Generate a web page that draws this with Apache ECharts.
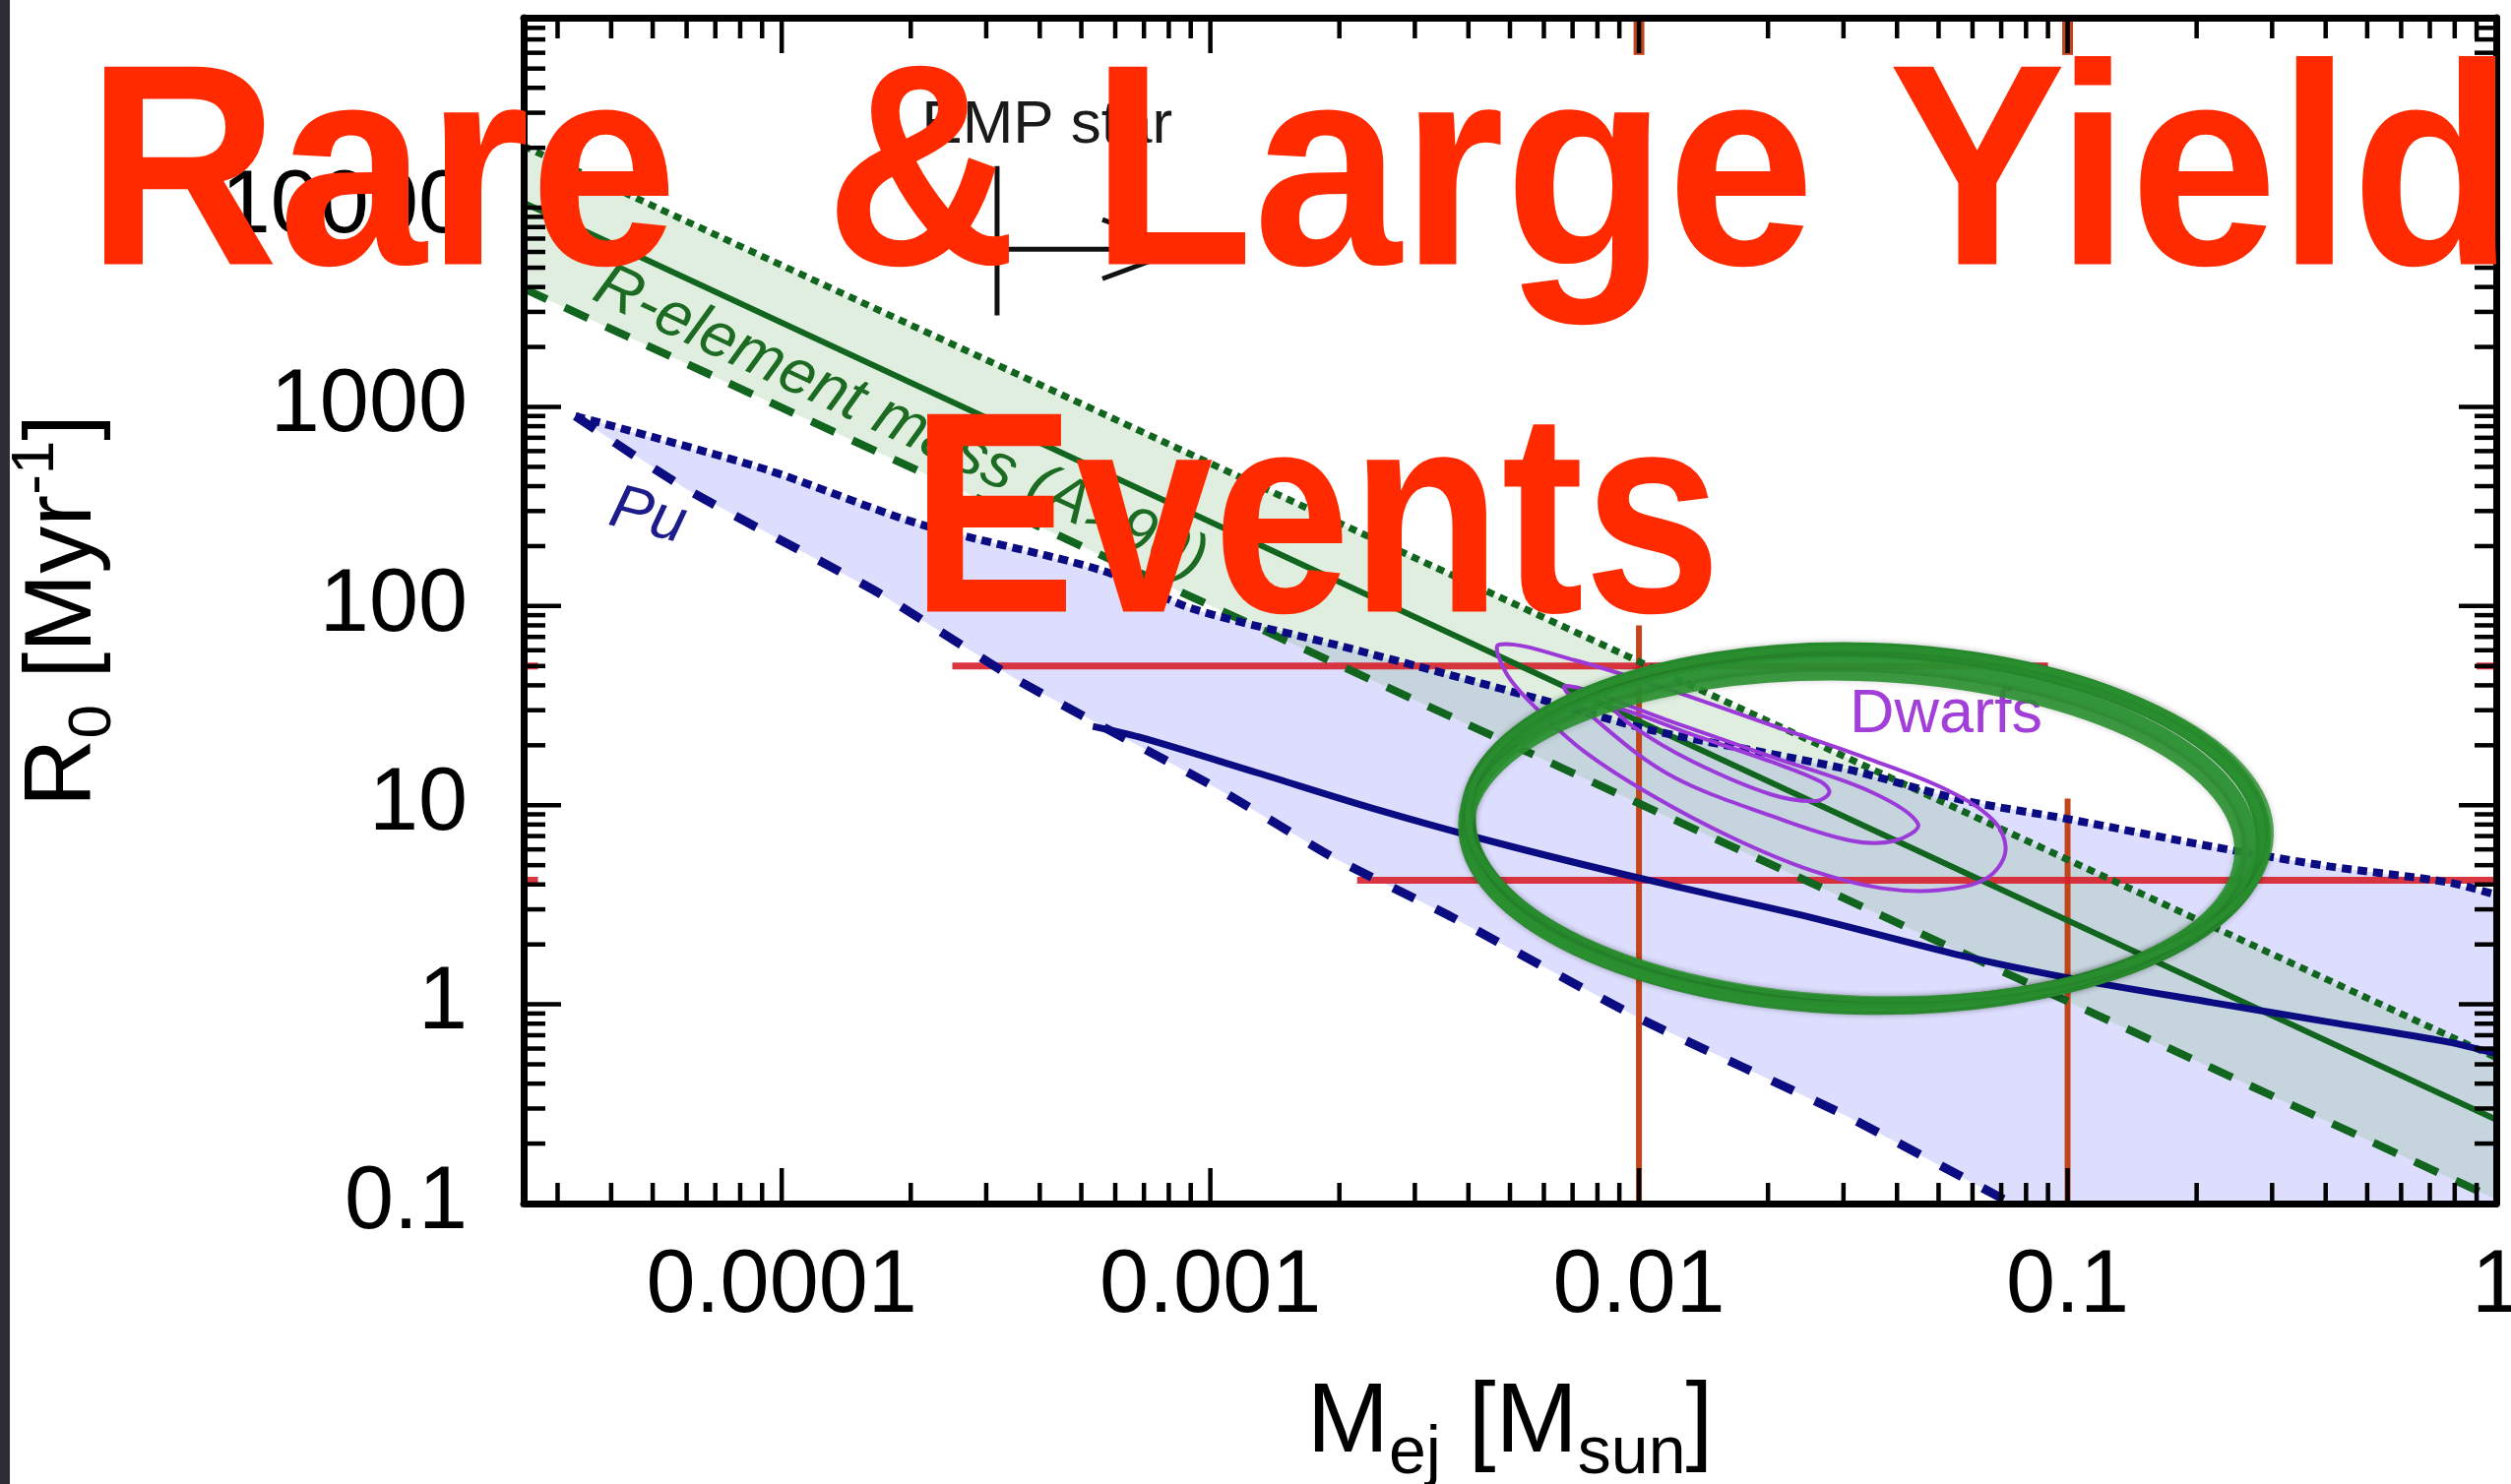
<!DOCTYPE html>
<html>
<head>
<meta charset="utf-8">
<title>Event rate versus ejected mass</title>
<script src="https://cdn.jsdelivr.net/npm/echarts@6.0.0/dist/echarts.min.js"></script>
<style>
  html, body { margin: 0; padding: 0; background: #ffffff; }
  #chart { width: 2551px; height: 1508px; }
</style>
</head>
<body>
<div id="chart"></div>
<script>
const FONT = '"Liberation Sans", Arial, Helvetica, sans-serif';

// Axis ranges: ejected mass [Msun] and event rate [Myr^-1]
const xRange = [2.5e-5, 1];
const yRange = [0.1, 9e4];

// Decade tick labels
const xTickValues = [1e-4, 1e-3, 1e-2, 1e-1, 1];
const xTickLabels = ['0.0001', '0.001', '0.01', '0.1', '1'];
const yTickValues = [0.1, 1, 10, 100, 1000, 10000];
const yTickLabels = ['0.1', '1', '10', '100', '1000', '10000'];

// R-element mass (A>90) band: upper (dotted), central (solid), lower (dashed)
const rElemUpper = [[2.5e-5, 20400], [1, 0.54]];
const rElemMid   = [[2.5e-5, 10600], [1, 0.264]];
const rElemLower = [[2.5e-5, 3930], [1, 0.105]];

// Pu band: upper (dotted), central (solid), lower (dashed)
const puUpper = [[3.3e-5, 900], [9.1e-5, 488], [2.1e-4, 258], [5.58e-4, 151], [9.14e-4, 96.6],
  [1.95e-3, 64.1], [3.64e-3, 45.0], [6.28e-3, 32.7], [1.07e-2, 23.8], [3.04e-2, 15.2],
  [5.7e-2, 10.6], [0.1, 8.53], [0.218, 6.19], [0.408, 4.93], [0.767, 4.11], [1, 3.55]];
const puMid = [[5.32e-4, 24.9], [6.82e-4, 22.0], [1.28e-3, 14.6], [2.39e-3, 9.66], [4.65e-3, 6.49],
  [1.0e-2, 4.31], [2.47e-2, 2.76], [5.7e-2, 1.75], [0.1, 1.36], [0.218, 1.02], [0.408, 0.815],
  [0.767, 0.649], [1, 0.565]];
const puLower = [[3.3e-5, 900], [5.98e-5, 388], [1.7e-4, 115], [3.51e-4, 43.1], [1.04e-3, 12.1],
  [1.95e-3, 5.41], [3.64e-3, 2.76], [1.0e-2, 0.853], [3.04e-2, 0.276], [7.4e-2, 0.1]];

// Dwarf-galaxy likelihood contours (inner, middle, outer)
const dwarfInner = [[8.77e-3, 30.9], [1.34e-2, 22.5], [2.04e-2, 16.5], [2.66e-2, 13.1], [2.78e-2, 11.6],
  [2.59e-2, 10.5], [2.04e-2, 11.3], [1.34e-2, 16.5], [9.75e-3, 24.6]];
const dwarfMiddle = [[6.73e-3, 39.7], [1.2e-2, 26.1], [2.04e-2, 17.5], [3.47e-2, 11.7], [4.48e-2, 8.05],
  [3.96e-2, 6.64], [3.12e-2, 6.64], [2.04e-2, 8.83], [1.2e-2, 13.9], [8.32e-3, 24.6]];
const dwarfOuter = [[4.72e-3, 64.1], [7.1e-3, 53.4], [1.2e-2, 37.5], [2.04e-2, 25.2], [3.38e-2, 17.3],
  [5.16e-2, 12.1], [6.73e-2, 8.34], [7.16e-2, 5.85], [6.47e-2, 4.3], [5.02e-2, 3.75], [3.66e-2, 3.84],
  [2.52e-2, 4.71], [1.65e-2, 6.87], [1.08e-2, 11.1], [7.48e-3, 18.5], [5.74e-3, 30.9], [4.9e-3, 46.1]];

// Rate limits (horizontal) and ejecta-mass marks (vertical)
const rateSegments = [
  [[2.5e-4, 50], [0.09, 50]],
  [[2.2e-3, 4.2], [1, 4.2]],
  [[2.5e-5, 50], [2.7e-5, 50]],
  [[2.5e-5, 4.2], [2.7e-5, 4.2]],
  [[0.9, 50], [1, 50]]
];
const massSegments = [
  [[0.01, 80], [0.01, 0.1]],
  [[0.1, 10.8], [0.1, 0.1]]
];
const massTopMarks = [
  [[0.01, 9e4], [0.01, 58500]],
  [[0.1, 9e4], [0.1, 58500]]
];

// EMP star lower limit marker
const empBar = [[3.18e-4, 16200], [3.18e-4, 2880]];
const empShaft = [[3.18e-4, 6190], [8.6e-4, 6190]];
const empHead = [[5.6e-4, 8730], [8.6e-4, 6190], [5.6e-4, 4400]];

// Text annotations anchored in data space
const labelEmp = { text: 'EMP star', at: [2.12e-4, 25800] };
const labelRElem = { text: 'R-element mass (A>90)', at: [3.72e-5, 4200] };
const labelPu = { text: 'Pu', at: [4.0e-5, 313] };
const labelDwarfs = { text: 'Dwarfs', at: [3.1e-2, 28.5] };

// Highlighted region
const highlightCenter = [0.0334, 7.9];

// ---------------------------------------------------------------------------
const GREEN = '#12651f';
const NAVY = '#0b0b82';
const PURPLE = '#9b3ad8';

function decadeLabel(values, labels) {
  return function (v) {
    const lv = Math.log10(v);
    const i = values.findIndex(t => Math.abs(Math.log10(t) - lv) < 1e-6);
    return i < 0 ? '' : labels[i];
  };
}

// log-axis tick positions (1..9 x 10^n) inside a range
function logTicks(range) {
  const out = [];
  const n0 = Math.floor(Math.log10(range[0]));
  const n1 = Math.ceil(Math.log10(range[1]));
  for (let n = n0; n <= n1; n++) {
    for (let k = 1; k <= 9; k++) {
      const v = k * Math.pow(10, n);
      if (v > range[0] * 1.0001 && v < range[1] * 0.9999) out.push({ v, major: k === 1 });
    }
  }
  return out;
}
const xTicks = logTicks(xRange);
const yTicks = logTicks(yRange);

function overlay(z, renderItem, clip) {
  return {
    type: 'custom', coordinateSystem: 'cartesian2d', data: [[1, 1]], encode: { x: 0, y: 1 },
    z, clip: clip !== false, silent: true, renderItem
  };
}

function lineSeries(data, color, width, type, z) {
  return {
    type: 'line', data, showSymbol: false, symbol: 'none', silent: true, z,
    lineStyle: { color, width, type, cap: 'butt' }
  };
}

function segmentGroup(segments, style) {
  return (params, api) => ({
    type: 'group',
    children: segments.map(seg => {
      const a = api.coord(seg[0]);
      const b = api.coord(seg[1]);
      return { type: 'line', shape: { x1: a[0], y1: a[1], x2: b[0], y2: b[1] }, style };
    })
  });
}

function polygonItem(points, style, smooth) {
  return (params, api) => ({
    type: 'polygon',
    shape: { points: points.map(p => api.coord(p)), smooth: smooth || 0 },
    style
  });
}

function textItem(label, font, fill, rotation) {
  return (params, api) => {
    const p = api.coord(label.at);
    return {
      type: 'text', x: p[0], y: p[1], rotation: typeof rotation === 'function' ? rotation(api) : (rotation || 0),
      style: { text: label.text, font, fill, align: 'left', verticalAlign: 'middle' }
    };
  };
}

// slope of the R-element band on screen, used to orient its label
function bandAngle(api) {
  const a = api.coord(rElemMid[0]);
  const b = api.coord(rElemMid[1]);
  return -Math.atan2(b[1] - a[1], b[0] - a[0]);
}

const puOutline = puUpper.concat([[1, yRange[0]]], puLower.slice().reverse());
const rElemOutline = rElemUpper.concat(rElemLower.slice().reverse());

function ticksItem(params, api) {
  const children = [];
  const yb = api.coord([xRange[0], yRange[0]])[1];
  const yt = api.coord([xRange[0], yRange[1]])[1];
  const xl = api.coord([xRange[0], yRange[0]])[0];
  const xr = api.coord([xRange[1], yRange[0]])[0];
  const st = { stroke: '#000', lineWidth: 4.5 };
  xTicks.forEach(t => {
    const x = api.coord([t.v, yRange[0]])[0];
    const len = t.major ? 36 : 21;
    children.push({ type: 'line', shape: { x1: x, y1: yb, x2: x, y2: yb - len }, style: st });
    children.push({ type: 'line', shape: { x1: x, y1: yt, x2: x, y2: yt + len }, style: st });
  });
  yTicks.forEach(t => {
    const y = api.coord([xRange[0], t.v])[1];
    const len = t.major ? 38 : 22;
    children.push({ type: 'line', shape: { x1: xl, y1: y, x2: xl + len, y2: y }, style: st });
    children.push({ type: 'line', shape: { x1: xr, y1: y, x2: xr - len, y2: y }, style: st });
  });
  return { type: 'group', children };
}

// hand-drawn looking ring: a few overlapping strokes, heavier toward the lower left
function highlightItem(params, api) {
  const c = api.coord(highlightCenter);
  const ring = (dx, dy, rx, ry, lw, op) => ({
    type: 'ellipse', x: c[0] + dx, y: c[1] + dy, rotation: -0.03,
    shape: { cx: 0, cy: 0, rx, ry },
    style: { fill: 'none', stroke: '#2a9130', lineWidth: lw, opacity: op,
      shadowBlur: 6, shadowColor: 'rgba(0,0,0,0.22)' }
  });
  return {
    type: 'group',
    children: [
      ring(2, 2, 404, 180, 16, 1),
      ring(-6, 10, 398, 174, 16, 0.95),
      ring(-10, 16, 392, 168, 10, 0.9),
      ring(6, -2, 408, 178, 6, 0.8)
    ]
  };
}

const axisLineStyle = { show: true, onZero: false, lineStyle: { color: '#000', width: 7 } };

const option = {
  animation: false,
  backgroundColor: '#ffffff',
  textStyle: { fontFamily: FONT },
  grid: { left: 532, right: 15, top: 18, bottom: 285, containLabel: false, outerBoundsMode: 'none' },
  xAxis: [
    {
      type: 'log', logBase: 10, min: xRange[0], max: xRange[1], position: 'bottom', z: 10,
      axisLine: axisLineStyle, axisTick: { show: false }, minorTick: { show: false },
      splitLine: { show: false },
      axisLabel: { formatter: decadeLabel(xTickValues, xTickLabels), fontSize: 90, lineHeight: 90,
        margin: 40, color: '#000', fontFamily: FONT, showMinLabel: true, showMaxLabel: true },
      name: '{m|M}{sub|ej}{m| [M}{sub|sun}{m|]}',
      nameLocation: 'middle', nameGap: 159,
      nameTextStyle: {
        color: '#000', fontFamily: FONT,
        rich: {
          m: { fontSize: 100, lineHeight: 130, fontFamily: FONT, color: '#000' },
          sub: { fontSize: 68, lineHeight: 68, verticalAlign: 'bottom', fontFamily: FONT, color: '#000' }
        }
      }
    },
    {
      type: 'log', logBase: 10, min: xRange[0], max: xRange[1], position: 'top', z: 10,
      axisLine: axisLineStyle, axisTick: { show: false }, axisLabel: { show: false }, splitLine: { show: false }
    }
  ],
  yAxis: [
    {
      type: 'log', logBase: 10, min: yRange[0], max: yRange[1], position: 'left', z: 10,
      axisLine: axisLineStyle, axisTick: { show: false }, minorTick: { show: false },
      splitLine: { show: false },
      axisLabel: { formatter: decadeLabel(yTickValues, yTickLabels), fontSize: 90, lineHeight: 90,
        margin: 57, color: '#000', fontFamily: FONT, padding: [0, 0, 24, 0] },
      name: '{m|R}{sub|0}{m| [Myr}{sup|-1}{m|]}',
      nameLocation: 'middle', nameGap: 406, nameRotate: 90,
      nameTextStyle: {
        color: '#000', fontFamily: FONT,
        rich: {
          m: { fontSize: 96, lineHeight: 120, fontFamily: FONT, color: '#000' },
          sub: { fontSize: 62, lineHeight: 60, verticalAlign: 'bottom', fontFamily: FONT, color: '#000' },
          sup: { fontSize: 62, lineHeight: 60, verticalAlign: 'top', fontFamily: FONT, color: '#000' }
        }
      }
    },
    {
      type: 'log', logBase: 10, min: yRange[0], max: yRange[1], position: 'right', z: 10,
      axisLine: axisLineStyle, axisTick: { show: false }, axisLabel: { show: false }, splitLine: { show: false }
    }
  ],
  series: [
    // shaded bands
    overlay(2, polygonItem(puOutline, { fill: 'rgba(128,132,246,0.27)' })),
    overlay(3, polygonItem(rElemOutline, { fill: 'rgba(118,180,118,0.23)' })),

    // ejecta-mass marks and rate limits
    overlay(4, segmentGroup(massSegments, { stroke: '#c2461c', lineWidth: 6 })),
    overlay(4, segmentGroup(massTopMarks, { stroke: '#c2461c', lineWidth: 11 })),
    overlay(4, segmentGroup(rateSegments, { stroke: 'rgba(214,32,44,0.9)', lineWidth: 7 })),

    // R-element band lines
    lineSeries(rElemUpper, GREEN, 7, [8, 6], 5),
    lineSeries(rElemMid, GREEN, 6, 'solid', 5),
    lineSeries(rElemLower, GREEN, 8, [26, 20], 5),

    // Pu band lines
    Object.assign(lineSeries(puUpper, NAVY, 8, [10, 6], 5), { smooth: 0.3 }),
    Object.assign(lineSeries(puMid, NAVY, 7, 'solid', 5), { smooth: 0.3 }),
    Object.assign(lineSeries(puLower, NAVY, 9, [24, 24], 5), { smooth: 0.2 }),

    // dwarf-galaxy contours
    overlay(6, polygonItem(dwarfOuter, { fill: 'none', stroke: PURPLE, lineWidth: 4 }, 0.35)),
    overlay(6, polygonItem(dwarfMiddle, { fill: 'none', stroke: PURPLE, lineWidth: 4 }, 0.35)),
    overlay(6, polygonItem(dwarfInner, { fill: 'none', stroke: PURPLE, lineWidth: 4 }, 0.35)),

    // EMP star marker
    overlay(6, segmentGroup([empBar, empShaft], { stroke: '#111', lineWidth: 5 })),
    overlay(6, (params, api) => ({
      type: 'polyline', shape: { points: empHead.map(p => api.coord(p)) },
      style: { fill: 'none', stroke: '#111', lineWidth: 5 }
    })),

    // annotations
    overlay(7, textItem(labelEmp, '62px ' + FONT, '#1a1a1a', 0), false),
    overlay(7, textItem(labelRElem, 'italic 64px ' + FONT, '#1d6b22', bandAngle)),
    overlay(7, textItem(labelPu, 'italic 63px ' + FONT, '#1c1c8a', -0.25)),
    overlay(7, textItem(labelDwarfs, '63px ' + FONT, '#a23fd9', 0)),

    // highlighted region
    overlay(8, highlightItem, false),

    // inside ticks on all four sides
    overlay(11, ticksItem, false)
  ],
  graphic: [
    { type: 'rect', z: 100, shape: { x: 0, y: 0, width: 10, height: 1508 }, style: { fill: '#2c2d35' } },
    { type: 'text', z: 100, x: 88, y: 188, scaleY: 1.08,
      style: { text: 'Rare  & Large Yield', font: 'bold 270px ' + FONT, fill: '#ff2a00',
        align: 'left', verticalAlign: 'middle', textAlign: 'left', textVerticalAlign: 'middle' } },
    { type: 'text', z: 100, x: 1337, y: 541, scaleX: 0.93, scaleY: 1.08,
      style: { text: 'Events', font: 'bold 270px ' + FONT, fill: '#ff2a00',
        align: 'center', verticalAlign: 'middle', textAlign: 'center', textVerticalAlign: 'middle' } }
  ]
};

const chart = echarts.init(document.getElementById('chart'), null, { renderer: 'canvas' });
chart.setOption(option);
</script>
</body>
</html>
